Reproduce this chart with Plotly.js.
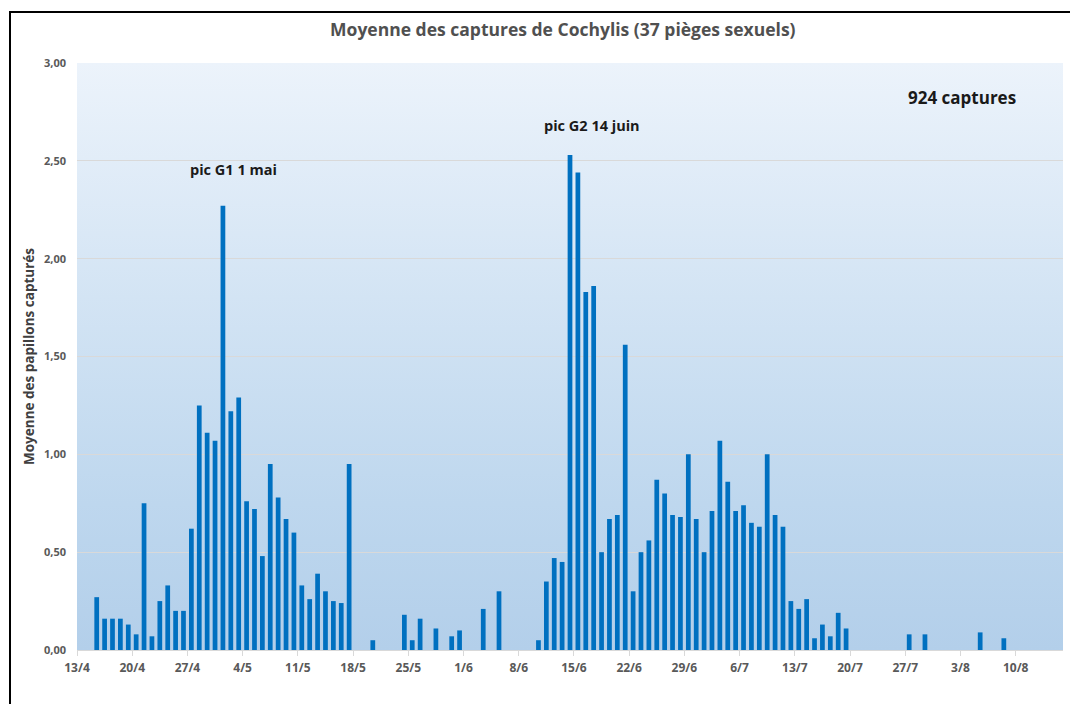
<!DOCTYPE html>
<html>
<head>
<meta charset="utf-8">
<script src="https://cdn.plot.ly/plotly-3.0.1.min.js"></script>
<style>
  html, body { margin: 0; padding: 0; background: #ffffff; }
  #wrap { position: relative; width: 1070px; height: 704px; overflow: hidden; }
  #bg { position: absolute; left: 77px; top: 63px; width: 986px; height: 587px;
        background: linear-gradient(to bottom, #ecf3fb 0%, #d3e4f4 40%, #bed7ee 75%, #b3cfea 100%); }
  #frame { position: absolute; left: 9px; top: 11px; width: 1100px; height: 800px;
           border-top: 2px solid #000; border-left: 2px solid #000; }
  #chart { position: absolute; left: 0; top: 0; width: 1070px; height: 704px; }
</style>
</head>
<body>
<div id="wrap">
  <div id="bg"></div>
  <div id="frame"></div>
  <div id="chart"></div>
</div>
<script>
const dates = [
  "2023-04-15","2023-04-16","2023-04-17","2023-04-18","2023-04-19","2023-04-20","2023-04-21","2023-04-22",
  "2023-04-23","2023-04-24","2023-04-25","2023-04-26","2023-04-27","2023-04-28","2023-04-29","2023-04-30",
  "2023-05-01","2023-05-02","2023-05-03","2023-05-04","2023-05-05","2023-05-06","2023-05-07","2023-05-08",
  "2023-05-09","2023-05-10","2023-05-11","2023-05-12","2023-05-13","2023-05-14","2023-05-15","2023-05-16",
  "2023-05-17","2023-05-20","2023-05-24","2023-05-25","2023-05-26","2023-05-28","2023-05-30","2023-05-31",
  "2023-06-03","2023-06-05","2023-06-10","2023-06-11","2023-06-12","2023-06-13","2023-06-14","2023-06-15",
  "2023-06-16","2023-06-17","2023-06-18","2023-06-19","2023-06-20","2023-06-21","2023-06-22","2023-06-23",
  "2023-06-24","2023-06-25","2023-06-26","2023-06-27","2023-06-28","2023-06-29","2023-06-30","2023-07-01",
  "2023-07-02","2023-07-03","2023-07-04","2023-07-05","2023-07-06","2023-07-07","2023-07-08","2023-07-09",
  "2023-07-10","2023-07-11","2023-07-12","2023-07-13","2023-07-14","2023-07-15","2023-07-16","2023-07-17",
  "2023-07-18","2023-07-19","2023-07-27","2023-07-29","2023-08-05","2023-08-08"
];
const moyennes = [
  0.27,0.16,0.16,0.16,0.13,0.08,0.75,0.07,
  0.25,0.33,0.20,0.20,0.62,1.25,1.11,1.07,
  2.27,1.22,1.29,0.76,0.72,0.48,0.95,0.78,
  0.67,0.60,0.33,0.26,0.39,0.30,0.25,0.24,
  0.95,0.05,0.18,0.05,0.16,0.11,0.07,0.10,
  0.21,0.30,0.05,0.35,0.47,0.45,2.53,2.44,
  1.83,1.86,0.50,0.67,0.69,1.56,0.30,0.50,
  0.56,0.87,0.80,0.69,0.68,1.00,0.67,0.50,
  0.71,1.07,0.86,0.71,0.74,0.65,0.63,1.00,
  0.69,0.63,0.25,0.21,0.26,0.06,0.13,0.07,
  0.19,0.11,0.08,0.08,0.09,0.06
];
const titre = "Moyenne des captures de Cochylis (37 pièges sexuels)";
const titreY = "Moyenne des papillons capturés";
const notes = ["pic G1 1 mai", "pic G2 14 juin", "924 captures"];
const DAY = 86400000;

const trace = {
  type: "bar",
  x: dates,
  y: moyennes,
  xperiod: DAY,
  xperiodalignment: "middle",
  width: 0.6 * DAY,
  marker: { color: "#0070c0", line: { width: 0 } },
  hoverinfo: "x+y"
};

const yTickFont = { family: "Open Sans, sans-serif", size: 11, color: "#595959", weight: 700 };
const xTickFont = { family: "Open Sans, sans-serif", size: 12, color: "#595959", weight: 700 };
const noteFont = (s) => ({ family: "Open Sans, sans-serif", size: s, color: "#1a1a1a", weight: 700 });

const layout = {
  width: 1070, height: 704,
  margin: { l: 77, r: 7, t: 63, b: 54 },
  paper_bgcolor: "rgba(0,0,0,0)",
  plot_bgcolor: "rgba(0,0,0,0)",
  separators: ",.",
  showlegend: false,
  title: {
    text: titre,
    x: 0.526, xanchor: "center",
    y: 0.957, yanchor: "middle",
    font: { family: "Open Sans, sans-serif", size: 17.5, color: "#505050", weight: 700 }
  },
  xaxis: {
    type: "date",
    range: ["2023-04-13", "2023-08-16"],
    tick0: "2023-04-13",
    dtick: 7 * DAY,
    tickformat: "%-d/%-m",
    ticks: "outside", ticklen: 5, tickcolor: "#d9d9d9",
    ticklabelstandoff: 2,
    showgrid: false,
    showline: true, linecolor: "#d9d9d9", linewidth: 1,
    tickfont: xTickFont,
    fixedrange: true
  },
  yaxis: {
    range: [0, 3],
    dtick: 0.5,
    tickformat: ".2f",
    showgrid: true, gridcolor: "#d9d9d9", gridwidth: 1,
    zeroline: false,
    showline: false,
    ticks: "",
    ticklabelstandoff: 10,
    tickfont: yTickFont,
    title: {
      text: titreY,
      standoff: 6,
      font: { family: "Open Sans, sans-serif", size: 13.5, color: "#404040", weight: 700 }
    },
    fixedrange: true
  },
  annotations: [
    { text: notes[0], xref: "paper", yref: "paper", x: 0.159, y: 0.818, xanchor: "center", yanchor: "middle",
      showarrow: false, font: noteFont(14.5) },
    { text: notes[1], xref: "paper", yref: "paper", x: 0.522, y: 0.893, xanchor: "center", yanchor: "middle",
      showarrow: false, font: noteFont(14.5) },
    { text: notes[2], xref: "paper", yref: "paper", x: 0.898, y: 0.942, xanchor: "center", yanchor: "middle",
      showarrow: false, font: noteFont(17) }
  ]
};

Plotly.newPlot("chart", [trace], layout, { displayModeBar: false, staticPlot: true });
</script>
</body>
</html>
